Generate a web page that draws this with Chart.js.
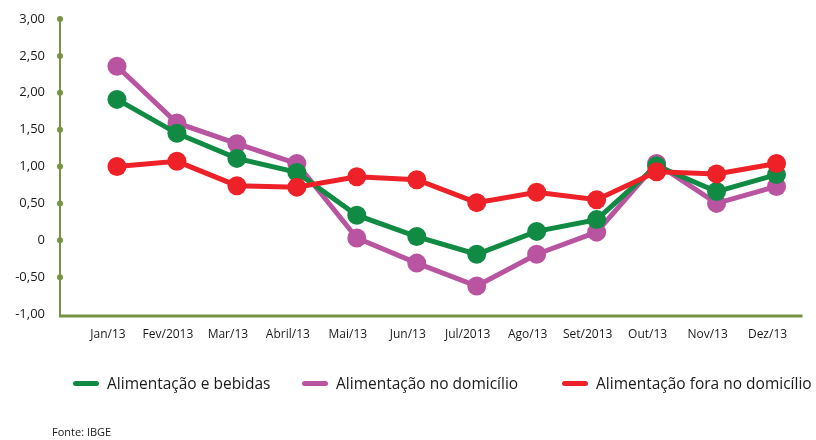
<!DOCTYPE html>
<html lang="pt">
<head>
    <meta charset="UTF-8">
    <title>Alimentação 2013</title>
    <style>
        * {
            box-sizing: border-box;
        }

        body {
            margin: 0;
            background: #fff;
            font-family: "Open Sans", sans-serif;
            color: #1a1a1a;
        }

        .wrap {
            position: relative;
            width: 816px;
            height: 440px;
        }

        .legend-item {
            position: absolute;
            top: 372px;
            height: 22px;
            display: flex;
            align-items: center;
            font-size: 15.5px;
            white-space: nowrap;
        }

        .legend-line {
            display: inline-block;
            width: 26px;
            height: 5px;
            border-radius: 3px;
            margin-right: 8px;
        }

        .fonte {
            position: absolute;
            left: 52px;
            top: 424px;
            font-size: 11px;
        }
    </style>
</head>
<body>
    <div class="wrap">
        <canvas id="mychart"></canvas>
        <div id="legend"></div>
        <div class="fonte">Fonte: IBGE</div>
    </div>

    <script src="https://cdn.jsdelivr.net/npm/chart.js@4.4.1/dist/chart.umd.min.js"></script>
    <script>
        const months = ["Jan/13", "Fev/2013", "Mar/13", "Abril/13", "Mai/13", "Jun/13", "Jul/2013", "Ago/13", "Set/2013", "Out/13", "Nov/13", "Dez/13"];
        const alimBebidas = [1.91, 1.45, 1.11, 0.92, 0.34, 0.05, -0.19, 0.12, 0.28, 1.01, 0.66, 0.89];
        const alimDomicilio = [2.36, 1.59, 1.31, 1.04, 0.03, -0.31, -0.62, -0.19, 0.11, 1.04, 0.50, 0.73];
        const alimFora = [1.00, 1.07, 0.74, 0.72, 0.86, 0.82, 0.51, 0.65, 0.55, 0.93, 0.90, 1.04];

        const yTicks = [-1, -0.5, 0, 0.5, 1, 1.5, 2, 2.5, 3];
        const yTickLabels = ["-1,00", "-0,50", "0", "0,50", "1,00", "1,50", "2,00", "2,50", "3,00"];

        const axisColor = "#779443";

        //eixos verdes com pontinhos
        const axisPlugin = {
            id: "axisPlugin",
            beforeDatasetsDraw(chart) {
                const ctx = chart.ctx;
                const area = chart.chartArea;
                const y = chart.scales.y;
                const x0 = 60;
                ctx.save();
                ctx.strokeStyle = axisColor;
                ctx.lineWidth = 2;
                ctx.beginPath();
                ctx.moveTo(x0, y.getPixelForValue(3));
                ctx.lineTo(x0, area.bottom + 2);
                ctx.stroke();

                ctx.lineWidth = 3;
                ctx.beginPath();
                ctx.moveTo(x0 - 1, area.bottom + 2);
                ctx.lineTo(area.right - 4, area.bottom + 2);
                ctx.stroke();

                ctx.fillStyle = axisColor;
                yTicks.forEach((v) => {
                    if (v === -1) return;
                    ctx.beginPath();
                    ctx.arc(x0, y.getPixelForValue(v), 3, 0, Math.PI * 2);
                    ctx.fill();
                });
                ctx.restore();
            },
        };

        const mychart = document.getElementById("mychart");

        const chart = new Chart(mychart, {
            type: "line",
            data: {
                labels: months,
                datasets: [
                    {
                        label: "Alimentação e bebidas",
                        data: alimBebidas,
                        borderColor: "#118a43",
                        backgroundColor: "#118a43",
                        order: 1,
                    },
                    {
                        label: "Alimentação no domicílio",
                        data: alimDomicilio,
                        borderColor: "#b854a0",
                        backgroundColor: "#b854a0",
                        order: 2,
                    },
                    {
                        label: "Alimentação fora no domicílio",
                        data: alimFora,
                        borderColor: "#ed2127",
                        backgroundColor: "#ed2127",
                        order: 0,
                    },
                ],
            },
            options: {
                responsive: true,
                maintainAspectRatio: false,
                animation: false,
                layout: {
                    padding: { top: 19, right: 9, bottom: 86, left: 0 },
                },
                elements: {
                    line: { borderWidth: 5, tension: 0 },
                    point: { radius: 9.5, hoverRadius: 9.5, borderWidth: 0 },
                },
                plugins: {
                    legend: { display: false },
                    tooltip: { enabled: false },
                },
                scales: {
                    x: {
                        offset: true,
                        grid: { display: false, drawTicks: false },
                        border: { display: false },
                        ticks: {
                            padding: 13,
                            labelOffset: -9,
                            maxRotation: 0,
                            autoSkip: false,
                            color: "#1a1a1a",
                            font: { family: "Open Sans", size: 12 },
                        },
                        afterFit(scale) {
                            scale.height = 40;
                        },
                    },
                    y: {
                        min: -1,
                        max: 3,
                        grid: { display: false, drawTicks: false },
                        border: { display: false },
                        afterBuildTicks(scale) {
                            scale.ticks = yTicks.map((v) => ({ value: v }));
                        },
                        ticks: {
                            padding: 42,
                            color: "#1a1a1a",
                            font: { family: "Open Sans", size: 13 },
                            callback: (value, index) => yTickLabels[index],
                        },
                        afterFit(scale) {
                            //o padding dos ticks empurra a area do grafico pra baixo, zera
                            scale.width = 87;
                            scale.paddingTop = 0;
                            scale.paddingBottom = 0;
                        },
                    },
                },
            },
            plugins: [axisPlugin],
        });

        //legenda em html
        const legendLeft = [73, 302, 562];
        const legend = document.getElementById("legend");
        chart.data.datasets.forEach((ds, i) => {
            const item = document.createElement("div");
            item.className = "legend-item";
            item.style.left = legendLeft[i] + "px";
            item.innerHTML = '<span class="legend-line" style="background:' + ds.borderColor + '"></span>' + ds.label;
            legend.appendChild(item);
        });
    </script>
</body>
</html>
